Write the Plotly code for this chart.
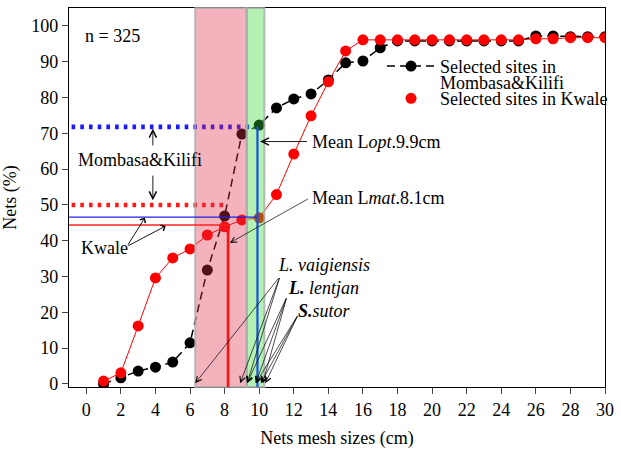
import plotly.graph_objects as go

# ---------------- data ----------------
mesh_cm = list(range(1, 31))
mombasa_kilifi_pct = [0.0, 1.7, 3.6, 4.7, 6.1, 11.5, 31.8, 46.9, 69.8, 72.3,
                      77.1, 79.6, 81.0, 84.9, 89.7, 90.2, 93.9,
                      95.8, 95.8, 95.8, 95.8, 95.8, 95.8, 95.8, 95.8,
                      97.2, 97.2, 97.0, 97.0, 97.0]
kwale_pct = [0.8, 3.1, 16.2, 29.6, 35.2, 37.7, 41.6, 43.9, 45.8, 46.4,
             52.9, 64.2, 74.9, 84.4, 93.0,
             96.1, 96.1, 96.1, 96.1, 96.1, 96.1, 96.1, 96.1, 96.1, 96.1,
             96.4, 96.4, 96.7, 96.7, 96.7]
x_ticks = list(range(0, 31, 2))
y_ticks = list(range(0, 101, 10))

lmat_cm = 8.2          # mean length at maturity (red vertical)
lopt_cm = 9.9          # mean optimum length (blue vertical)
lmat_band = [6.3, 9.28]
lopt_band = [9.28, 10.3]
mk_dotted_level = 71.8     # Mombasa&Kilifi dotted level
kw_dotted_level = 50.0     # Kwale dotted level
mk_dotted_end = 10.0
kw_dotted_end = 8.1
mk_solid_level = 46.6
kw_solid_level = 44.4

x_range = [-1, 30]
y_range = [-0.85, 105]

FONT = "Liberation Serif"
FS = 18
F = dict(family=FONT, size=FS, color="black")

fig = go.Figure()

# dotted reference levels (drawn under the bands)
fig.add_trace(go.Scatter(x=[x_range[0] + 0.15, mk_dotted_end], y=[mk_dotted_level] * 2,
                         mode="lines", line=dict(color="#1a1aff", width=4.6, dash="3.6px,5.1px"),
                         showlegend=False, hoverinfo="skip"))
fig.add_trace(go.Scatter(x=[x_range[0] + 0.15, kw_dotted_end], y=[kw_dotted_level] * 2,
                         mode="lines", line=dict(color="#ff1a1a", width=4.6, dash="3.6px,5.1px"),
                         showlegend=False, hoverinfo="skip"))

# series
fig.add_trace(go.Scatter(x=mesh_cm, y=mombasa_kilifi_pct, mode="lines+markers",
                         name="Selected sites in", legend="legend",
                         line=dict(color="black", width=1.5, dash="8px,5px"),
                         marker=dict(color="black", size=11)))
fig.add_trace(go.Scatter(x=[None], y=[None], mode="lines", name="Mombasa&Kilifi",
                         legend="legend2", line=dict(color="rgba(0,0,0,0)", width=0),
                         hoverinfo="skip"))
fig.add_trace(go.Scatter(x=mesh_cm, y=kwale_pct, mode="lines+markers",
                         name="Selected sites in Kwale", showlegend=False,
                         line=dict(color="red", width=1),
                         marker=dict(color="red", size=11)))
fig.add_trace(go.Scatter(x=[None], y=[None], mode="markers",
                         name="Selected sites in Kwale", legend="legend3",
                         marker=dict(color="red", size=11)))

shapes = [
    dict(type="rect", xref="x", yref="paper", x0=lmat_band[0], x1=lmat_band[1], y0=0, y1=1,
         fillcolor="rgba(225,45,70,0.36)", line=dict(color="rgba(170,170,170,0.8)", width=2),
         layer="above"),
    dict(type="rect", xref="x", yref="paper", x0=lopt_band[0], x1=lopt_band[1], y0=0, y1=1,
         fillcolor="rgba(50,220,50,0.37)", line=dict(color="rgba(170,170,170,0.8)", width=2),
         layer="above"),
    dict(type="line", xref="x", yref="y", x0=x_range[0], x1=lopt_cm, y0=mk_solid_level, y1=mk_solid_level,
         line=dict(color="#2020e0", width=1.3), layer="above"),
    dict(type="line", xref="x", yref="y", x0=x_range[0], x1=lmat_cm, y0=kw_solid_level, y1=kw_solid_level,
         line=dict(color="#ff2020", width=1.3), layer="above"),
    dict(type="line", xref="x", yref="y", x0=lmat_cm, x1=lmat_cm, y0=y_range[0], y1=kw_solid_level,
         line=dict(color="#ff1010", width=2.6), layer="above"),
    dict(type="line", xref="x", yref="y", x0=lopt_cm, x1=lopt_cm, y0=y_range[0], y1=mk_dotted_level,
         line=dict(color="#1a4fd8", width=2.2), layer="above"),
]
fig.update_layout(shapes=shapes)

ann = []
def text(x, y, s, anchor="left"):
    ann.append(dict(x=x, y=y, xref="x", yref="y", text=s, showarrow=False,
                    xanchor=anchor, yanchor="middle", font=F))

def arrow(tx, ty, hx, hy, head=5, size=1.6, w=0.9):
    ann.append(dict(x=hx, y=hy, ax=tx, ay=ty, xref="x", yref="y", axref="x", ayref="y",
                    text="", showarrow=True, arrowhead=head, arrowsize=size, arrowwidth=w,
                    arrowcolor="black", standoff=0, startstandoff=0))

text(-0.2, 97.2, "n = 325")
text(-0.6, 62.6, "Mombasa&Kilifi")
text(-0.45, 38.0, "Kwale")
text(12.95, 67.7, "Mean L<i>opt</i>.9.9cm")
text(12.95, 51.8, "Mean L<i>mat</i>.8.1cm")
text(11.0, 33.3, "<i>L. vaigiensis</i>")
text(11.55, 26.9, "<i><b>L.</b> lentjan</i>")
text(12.1, 20.5, "<i><b>S.</b>sutor</i>")

# Mombasa&Kilifi double arrow
arrow(3.85, 66.2, 3.85, 71.3)
arrow(3.85, 58.6, 3.85, 51.3)
# Kwale arrows
arrow(2.35, 38.4, 3.39, 46.4, head=4, size=1.4)
arrow(2.35, 38.4, 4.59, 44.1, head=4, size=1.4)
# Mean Lopt / Lmat arrows
arrow(12.85, 67.7, 10.05, 67.7)
arrow(12.9, 51.9, 8.3, 39.4, w=0.7)
# species arrows
for hx in [6.3, 8.9, 9.3]:
    arrow(11.2, 30.0, hx, 0.2, w=0.7)
for hx in [9.3, 9.8, 10.2]:
    arrow(11.6, 24.3, hx, 0.2, w=0.7)
for hx in [9.8, 10.1, 10.35]:
    arrow(12.25, 19.3, hx, 0.2, w=0.7)

leg = dict(x=0.584, xanchor="left", yanchor="middle", bgcolor="rgba(0,0,0,0)",
           font=F, itemwidth=48, tracegroupgap=0)

fig.update_layout(
    annotations=ann,
    width=621, height=454,
    margin=dict(l=69, r=9, t=8, b=67),
    paper_bgcolor="white", plot_bgcolor="white",
    font=F,
    xaxis=dict(range=x_range, tickvals=x_ticks, ticks="outside", ticklen=6, tickwidth=1,
               tickfont=F, ticklabeloverflow="allow",
               showline=True, mirror=True, linecolor="black", linewidth=1.2,
               showgrid=False, zeroline=False, automargin=False,
               title=dict(text="Nets mesh sizes (cm)", standoff=12, font=F)),
    yaxis=dict(range=y_range, tickvals=y_ticks, ticks="outside", ticklen=6, tickwidth=1,
               tickfont=F,
               showline=True, mirror=True, linecolor="black", linewidth=1.2,
               showgrid=False, zeroline=False, automargin=False,
               title=dict(text="Nets (%)", standoff=10, font=F)),
    legend=dict(leg, y=0.846),
    legend2=dict(leg, y=0.803),
    legend3=dict(leg, y=0.761),
    showlegend=True,
)

# remove the browser's default 8px page margin so the 621x454 figure fits the window exactly
fig.write_html("out.html", config={"displayModeBar": False},
               post_script="document.body.style.margin='0px';")
